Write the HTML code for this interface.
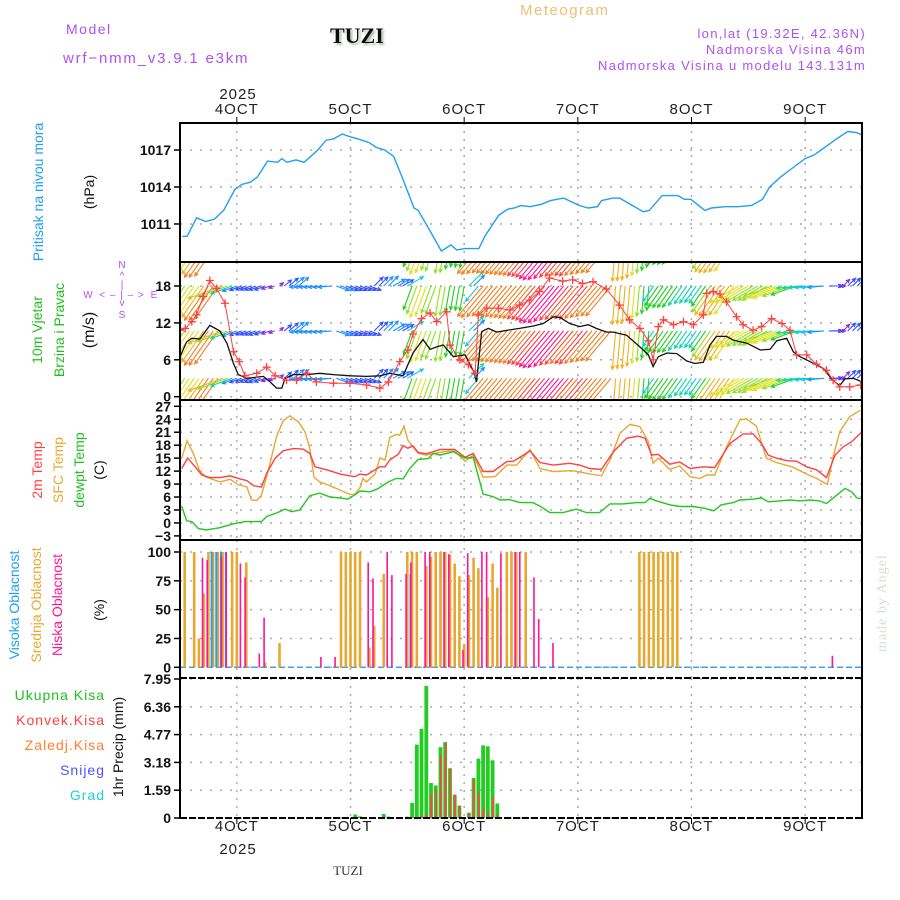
<!DOCTYPE html>
<html><head><meta charset="utf-8"><title>Meteogram TUZI</title>
<style>
html,body{margin:0;padding:0;background:#fff;}
svg{display:block;font-family:"Liberation Sans",sans-serif;}
.serif{font-family:"Liberation Serif",serif;}
</style></head>
<body>
<svg id="chart" width="900" height="900" viewBox="0 0 900 900" xmlns="http://www.w3.org/2000/svg">
<defs>
<clipPath id="cp1"><rect x="180" y="123" width="682" height="139"/></clipPath>
<clipPath id="cp2"><rect x="180" y="263" width="682" height="137"/></clipPath>
<clipPath id="cp3"><rect x="180" y="401" width="682" height="139"/></clipPath>
<filter id="sh"><feDropShadow dx="2" dy="2" stdDeviation="1" flood-color="#9a9" flood-opacity="0.8"/></filter>
</defs>
<g>
<text x="66" y="34" fill="#b050f0" font-size="14" letter-spacing="1.5">Model</text>
<text x="63" y="63" fill="#b050f0" font-size="15" letter-spacing="1.8">wrf−nmm_v3.9.1 e3km</text>
<text class="serif" x="330" y="43" fill="#111" font-size="22" font-weight="bold" filter="url(#sh)">TUZI</text>
<text x="520" y="15" fill="#f0c070" font-size="15" letter-spacing="1.5">Meteogram</text>
<text x="866" y="38" text-anchor="end" fill="#b050f0" font-size="13" letter-spacing="1.3">lon,lat (19.32E, 42.36N)</text>
<text x="866" y="54" text-anchor="end" fill="#b050f0" font-size="13" letter-spacing="1.3">Nadmorska Visina 46m</text>
<text x="866" y="70" text-anchor="end" fill="#b050f0" font-size="13" letter-spacing="1.3">Nadmorska Visina u modelu 143.131m</text>
<text x="238" y="99" text-anchor="middle" fill="#222" font-size="15" letter-spacing="1">2025</text>
<text x="238" y="854" text-anchor="middle" fill="#222" font-size="15" letter-spacing="1">2025</text>
<text class="serif" x="348" y="875" text-anchor="middle" fill="#333" font-size="13">TUZI</text>
<text class="serif" transform="translate(886,652) rotate(-90)" fill="#d4e0d4" font-size="14" letter-spacing="1">made by Angel</text>
</g>
<g font-size="14">
<text transform="translate(43,192) rotate(-90)" text-anchor="middle" fill="#20a0f0">Pritisak na nivou mora</text>
<text transform="translate(94,192) rotate(-90)" text-anchor="middle" fill="#111">(hPa)</text>
<text transform="translate(42,330) rotate(-90)" text-anchor="middle" fill="#20c020">10m Vjetar</text>
<text transform="translate(64,330) rotate(-90)" text-anchor="middle" fill="#20c020">Brzina i Pravac</text>
<text transform="translate(94,330) rotate(-90)" text-anchor="middle" fill="#111" font-size="16">(m/s)</text>
<g fill="#b050f0" font-size="10" stroke="none">
<text x="122" y="268" text-anchor="middle">N</text><text x="122" y="279" text-anchor="middle">^</text>
<text x="122" y="288" text-anchor="middle">|</text><text x="122" y="306" text-anchor="middle">v</text>
<text x="122" y="318" text-anchor="middle">S</text>
<text x="88" y="298" text-anchor="middle">W</text><text x="154" y="298" text-anchor="middle">E</text>
<text x="122" y="298" text-anchor="middle" letter-spacing="1">&lt; – | – &gt;</text>
</g>
<text transform="translate(42,470) rotate(-90)" text-anchor="middle" fill="#ff4040">2m Temp</text>
<text transform="translate(63,470) rotate(-90)" text-anchor="middle" fill="#e8a830">SFC Temp</text>
<text transform="translate(84,470) rotate(-90)" text-anchor="middle" fill="#20c020">dewpt Temp</text>
<text transform="translate(104,470) rotate(-90)" text-anchor="middle" fill="#111">(C)</text>
<text transform="translate(19,605) rotate(-90)" text-anchor="middle" fill="#20a0f0">Visoka Oblacnost</text>
<text transform="translate(41,605) rotate(-90)" text-anchor="middle" fill="#e8a830">Srednja Oblacnost</text>
<text transform="translate(62,605) rotate(-90)" text-anchor="middle" fill="#ff1493">Niska Oblacnost</text>
<text transform="translate(104,610) rotate(-90)" text-anchor="middle" fill="#111">(%)</text>
<text x="105" y="700" text-anchor="end" fill="#20c020" letter-spacing="1">Ukupna Kisa</text>
<text x="105" y="725" text-anchor="end" fill="#ff4040" letter-spacing="1">Konvek.Kisa</text>
<text x="105" y="750" text-anchor="end" fill="#ff8030" letter-spacing="1">Zaledj.Kisa</text>
<text x="105" y="775" text-anchor="end" fill="#5050ff" letter-spacing="1">Snijeg</text>
<text x="105" y="800" text-anchor="end" fill="#20d0d0" letter-spacing="1">Grad</text>
<text transform="translate(123,747) rotate(-90)" text-anchor="middle" fill="#111">1hr Precip (mm)</text>
</g>
<g id="grid"></g>
<g id="marks"></g>
<g id="frame"></g>
</svg>
<script>
// ---- data ----
const dayLabels = ["4OCT","5OCT","6OCT","7OCT","8OCT","9OCT"];
const dayHours = [12,36,60,84,108,132];
const presTicks = [1011,1014,1017];
const windTicks = [0,6,12,18];
const tempTicks = [-3,0,3,6,9,12,15,18,21,24,27];
const cloudTicks = [0,25,50,75,100];
const precipTicks = [0,1.59,3.18,4.77,6.36,7.95];

const presHours = [0.5,1.5,3.5,5.4,7.3,9.2,11.6,13,14.9,16.3,18.5,20.6,21.5,22.6,24.5,26.2,29.1,30.9,32.4,34.3,35.7,37.6,39.9,41.5,43.2,45.1,47,49.4,50.3,52.7,55.2,57.2,58.4,60.2,63.1,64.5,67.3,69.2,70.6,72,73.9,76.3,78.2,81,84.3,86.2,88.1,89,91.4,92.8,97.8,99.1,101.8,105.1,106.5,107.9,110.8,112.2,115,117.8,120.7,123,124.5,126.8,129.2,132,133.9,137.2,138.6,141,142.9,144.1];
const presVals = [1010.0,1010.0,1011.5,1011.2,1011.4,1012.1,1013.8,1014.2,1014.4,1014.8,1016.1,1016.0,1016.3,1016.0,1016.2,1016.0,1017.0,1017.8,1017.9,1018.3,1018.1,1017.9,1017.6,1017.2,1017.0,1016.5,1014.7,1012.3,1012.1,1010.5,1008.8,1009.3,1008.9,1009.0,1009.0,1010.1,1011.7,1012.2,1012.3,1012.5,1012.4,1012.6,1012.9,1013.1,1012.5,1012.3,1012.4,1012.9,1013.1,1013.1,1012.0,1012.1,1013.3,1013.3,1013.0,1013.0,1012.1,1012.3,1012.4,1012.4,1012.5,1013.0,1014.0,1014.8,1015.5,1016.3,1016.6,1017.5,1017.9,1018.5,1018.4,1018.2];

const speedHours = [0,1.4,2.5,4.2,6.3,8.4,9.9,11.3,12.3,14.1,17.6,19,20.4,21.5,22.2,23.9,26.7,29.5,32.4,35.9,39.4,42.2,44.3,47.1,49.2,51.3,52.8,54.2,55.6,57.7,60.2,62,62.6,63.7,65.1,66.9,69,71.7,74.6,76.7,78.8,80.2,82.3,84.4,86.2,87.9,90.1,91.5,94.3,97.1,98.9,99.9,101,102.8,104.9,107,108.7,110.5,111.9,113.3,115.4,116.8,119.7,122.5,124.6,126,128.1,129.5,130.9,133,135.8,137.9,139.3,140.4,142.2,144];
const speedVals = [6.5,8.9,9.5,9.4,11.6,10.7,8.7,5.4,3.6,3.0,3.3,2.4,1.4,1.4,3.0,3.6,3.6,3.8,3.6,3.4,3.3,3.4,3.8,3.4,7.1,9.3,7.7,8.1,8.4,6.5,6.8,4.1,2.4,10.6,11.1,10.5,10.8,11.1,11.5,11.9,13.0,12.9,11.9,11.4,11.7,11.1,10.5,10.5,10.0,8.1,6.8,4.9,6.5,7.1,7.0,5.8,5.4,5.6,8.4,9.8,9.8,9.2,8.7,7.6,7.7,9.1,9.5,7.3,6.5,5.7,4.6,2.6,1.8,2.9,3.0,2.4];

const gustHours = [0,1.1,2.5,3.5,4.9,6.3,7.7,9.5,11.3,12.5,13.7,16.2,18.3,20.1,22.5,24.6,26.7,28.8,32.4,35.9,39.4,42.2,44,46.4,48.1,49.2,51,52.8,54.2,56.3,57,59.1,60.9,62.3,63,64.8,67.2,69.7,71.7,73.8,75.9,78,80.8,82.9,85,87.2,90,92.8,94.9,97.1,98.9,99.9,101,102.1,104.2,106.3,108.4,110.5,111.2,112.6,114,115.4,117.5,118.9,121,122.8,124.9,127.1,128.8,130.2,132.3,134.4,136.5,137.9,139.3,141.4,143.7];
const gustVals = [10.8,11.1,12.2,13.3,16.3,18.9,17.6,15.2,7.3,5.7,3.4,3.8,4.8,3.4,2.7,2.7,3.8,2.4,2.2,2.2,1.9,1.4,2.4,5.7,7.6,10.2,12.7,13.6,12.2,13.8,8.4,6.0,5.2,3.8,13.3,14.4,14.4,14.1,14.9,15.7,17.1,19.3,18.8,19.0,18.4,18.7,17.5,14.9,12.5,11.1,9.1,6.0,11.4,12.5,11.7,12.2,11.7,13.3,16.8,17.1,16.7,15.4,13.0,11.7,10.8,11.4,12.7,11.9,10.8,6.8,6.8,5.3,4.3,2.7,1.6,1.6,1.9];

const dirStartHours = [0,9,21,26,33,41,45,49,55,61,63,92,100,118,125,131,137,140];
const dirToDeg = [215,250,50,265,110,45,60,200,190,45,220,185,215,240,250,265,90,45];
const arrowRowVals = [3,10.7,18,25];

const t2Hours = [0.35,1.6,3.2,4.6,6.3,8.4,10.6,12.7,14.1,15.6,17.2,18.3,20.1,21.8,23.9,26,27.4,28.5,31,33.8,36.9,38,39.4,41.2,42.2,43.3,44.3,46.1,47.1,48.1,49.2,50.3,52,53.5,54.9,58,60.2,61.9,64,66.1,69,70.4,72.5,73.9,76,78.8,82.3,84.4,86.5,89,91.5,94.3,96.7,98.2,99.6,101,103.4,105.5,107.7,110.5,112.9,116.1,118.9,121,122.8,124.2,125.9,128.1,130.2,132.3,134.4,136.5,138.3,140,141.8,143.7];
const t2Vals = [12.6,15.0,13.0,11.1,10.5,10.5,10.9,10.2,9.8,8.6,8.3,11.5,15.0,16.7,17.2,17.1,16.1,13.0,12.3,11.3,10.7,11.3,11.1,12.3,13.0,13.0,14.6,15.9,17.9,17.3,17.8,16.3,16.0,16.5,17.0,17.0,15.2,16.1,11.9,11.9,14.2,14.3,15.7,16.7,14.0,13.4,13.8,13.4,12.6,12.4,16.5,19.6,20.1,19.6,15.7,15.9,13.6,14.1,12.6,13.0,12.8,18.4,20.6,20.6,18.4,15.7,15.0,14.4,14.3,13.0,12.3,10.5,15.7,17.6,18.8,20.8];
const sfcHours = [0.35,1.5,2.8,4.2,5.6,8.4,10.6,12.3,14.1,15.1,16.2,17.2,18.3,20.4,21.8,23.2,25,26.4,27.4,28.3,29.5,31.7,33.8,35.9,36.9,38.1,38.6,39.4,41.2,42.2,43.3,44.3,45.7,46.4,47.3,48.1,49.2,50.3,52,54.2,56.6,58,60.2,61.9,64,66.5,69,71.1,73.9,76,78.8,83,85.8,89,90.8,92.9,95,97.1,98.9,99.9,101,103.4,105.5,107.7,109.8,111.2,112.9,115.4,118.2,119.6,121.7,123.8,125.9,129.4,132.3,134.4,136.7,137.9,139.3,141.4,143.7];
const sfcVals = [15.0,19.0,16.1,11.9,10.6,9.5,10.1,8.8,8.4,5.3,5.2,6.5,10.7,20.0,23.7,24.8,23.4,21.1,17.3,10.6,9.5,8.6,7.6,6.6,6.6,8.3,10.3,9.5,11.3,15.0,14.6,19.8,20.5,20.3,22.4,19.2,17.6,16.1,15.7,16.2,16.6,16.6,14.3,15.7,10.6,10.7,13.4,13.4,17.0,12.6,11.9,12.1,11.5,10.9,14.6,20.8,22.8,22.3,18.8,13.8,15.0,12.4,13.2,10.7,10.3,11.1,11.1,17.6,23.8,24.1,22.4,15.0,14.0,12.9,11.3,10.3,8.9,15.3,21.1,24.6,26.1];
const dewHours = [0.35,1.4,2.5,3.9,5.6,8.4,11.3,13.7,17.2,18.3,20.4,22.2,23.6,25.3,27.4,29.5,31.7,33.8,35.5,37.3,38,40.1,41.6,44,45.7,47.1,48.5,50.3,52.4,53.5,54.9,57.7,60.2,61.9,64,66.1,67.6,69.6,71.7,74.5,76,78.1,80.9,83.7,85.8,88.6,90.8,93.6,96.4,98.2,99.2,100.6,103.4,105.5,108.3,110.8,112.7,114.3,116.8,118.2,121,122.8,124.2,126.6,128.8,130.9,133,135.1,136.5,138.3,140.4,141.8,142.9,143.7];
const dewVals = [3.9,0.5,0.3,-1.3,-1.6,-1.1,-0.2,0.3,0.3,1.5,2.3,3.2,2.6,3.0,6.3,6.9,6.0,5.8,5.5,6.8,7.4,7.2,7.8,9.5,10.3,10.2,12.6,14.7,14.9,16.1,15.7,16.5,15.0,15.2,6.7,6.1,5.3,5.4,4.7,4.7,3.9,2.4,2.4,3.2,2.4,2.4,4.4,4.4,4.7,4.7,5.7,5.1,4.2,3.8,3.8,3.4,2.8,4.2,4.7,5.3,5.5,5.8,4.9,5.1,5.3,5.1,5.3,5.1,4.5,6.1,8.0,7.2,5.8,5.6];

const cloudHighHours = [7,8,9,10,49];
const cloudHighVals = [100,100,100,100,81];
const cloudMidHours = [1,3,4,5,6,7,8,9,11,12,14,18,21,34,35,36,37,38,40,41,43,48,49,50,52,53,54,55,56,57,58,59,60,61,62,63,65,66,67,69,70,71,73,97,98,99,100,101,102,103,104,105];
const cloudMidVals = [100,100,25,64,100,100,100,100,100,100,91,4,21,100,100,100,100,100,17,36,81,100,100,100,88,96,100,100,100,98,90,79,20,80,95,86,61,90,69,100,100,100,100,100,100,100,100,100,100,100,100,100];
const cloudLowHours = [5,6,9,10,13,14,17,18,30,33,40,41,44,45,48,49,52,53,56,57,60,61,64,65,68,71,72,75,76,79,138];
const cloudLowVals = [95,93,96,100,90,78,12,43,9,9,91,77,100,80,81,91,100,100,100,98,15,99,100,100,99,100,100,78,42,21,10];

const precipHours = [37,38,43,44,48,49,50,51,52,53,54,55,56,57,58,59,61,62,63,64,65,66,67];
const precipTotal = [0.2,0.1,0.23,0.08,0.08,0.86,4.2,5.1,7.55,2.0,1.86,4.05,4.34,2.84,1.34,0.71,0.3,2.3,3.4,4.15,4.1,3.3,0.83];
const precipConv = [0,0,0,0,0,0,0.05,0.1,0.25,1.34,1.6,3.6,4.3,2.84,1.34,0.71,0.3,2.2,1.45,0.55,0.3,1.2,0.2];

// ---- axes ----
const X0=180, X1=862, HMAX=144;
const xs = h => X0 + h*(X1-X0)/HMAX;
const yPres = p => 150 + (1017-p)*12.33;
const yWind = v => 396.7 - v*6.15;
const yTemp = t => 406.3 + (27-t)*4.32;
const yCloud = c => 667.3 - c*1.153;
const yPrec = m => 818 - m*(139/7.95);

const NS="http://www.w3.org/2000/svg";
function el(tag, attrs, parent){const e=document.createElementNS(NS,tag);for(const k in attrs)e.setAttribute(k,attrs[k]);parent.appendChild(e);return e;}
const grid=document.getElementById('grid'), marks=document.getElementById('marks'), frame=document.getElementById('frame');

const panels=[
 {top:123,bot:262,ticks:presTicks,fy:yPres,fmt:v=>v,name:'pressure'},
 {top:262,bot:400,ticks:windTicks,fy:yWind,fmt:v=>v,name:'wind'},
 {top:400,bot:540,ticks:tempTicks,fy:yTemp,fmt:v=>v<0?'−'+(-v):v,name:'temp'},
 {top:540,bot:678,ticks:cloudTicks,fy:yCloud,fmt:v=>v,name:'cloud'},
 {top:678,bot:818,ticks:precipTicks,fy:yPrec,fmt:v=>v,name:'precip'}
];
panels.forEach(p=>{
  dayHours.forEach(h=>{
    const g=el('line',{x1:xs(h),x2:xs(h),y1:p.top,y2:p.bot,stroke:'#aaa','stroke-width':1.5,'stroke-dasharray':'2,6'},grid);
    
    
  });
  p.ticks.forEach(v=>{
    const y=p.fy(v);
    const g=el('line',{x1:X0,x2:X1,y1:y,y2:y,stroke:'#aaa','stroke-width':1.5,'stroke-dasharray':'2,8'},grid);
    
    
    const tk=el('line',{x1:X0-6,x2:X0,y1:y,y2:y,stroke:'#000','stroke-width':1.5},frame);
    
    
    const t=el('text',{x:X0-9,y:y+5,'text-anchor':'end','font-size':14,'font-weight':'bold',fill:'#111'},frame);
    t.textContent=p.fmt(v);
    
    
  });
});
dayHours.forEach((h,i)=>{
  [[114,123,117],[831,818,812]].forEach(([ty,a,b])=>{
    const t=el('text',{x:xs(h),y:ty,'text-anchor':'middle','font-size':15,fill:'#222','letter-spacing':1},frame);
    t.textContent=dayLabels[i];
    
    
    const l=el('line',{x1:xs(h),x2:xs(h),y1:a,y2:b+(ty>800?12:0),stroke:'#000','stroke-width':1},frame);
    
    
  });
});

function polyline(hours, vals, fy, color, name, clip, width){
  const pts=hours.map((h,i)=>xs(h).toFixed(1)+','+fy(vals[i]).toFixed(1)).join(' ');
  const p=el('polyline',{points:pts,fill:'none',stroke:color,'stroke-width':width||1.4,'clip-path':'url(#'+clip+')'},marks);
  
  
}
polyline(presHours,presVals,yPres,'#20a0f0','pressure-line','cp1');

function interp(hs,vs,h){if(h<=hs[0])return vs[0];for(let i=1;i<hs.length;i++){if(h<=hs[i]){const f=(h-hs[i-1])/(hs[i]-hs[i-1]);return vs[i-1]+f*(vs[i]-vs[i-1]);}}return vs[vs.length-1];}
function dirAt(h){let d=dirToDeg[0];for(let i=0;i<dirStartHours.length;i++){if(h>=dirStartHours[i])d=dirToDeg[i];}return d;}
function speedColor(s){
  if(s<2.5)return '#8a2be2'; if(s<3.5)return '#3050ff'; if(s<4.5)return '#1e90ff'; if(s<5.5)return '#10c8e8';
  if(s<6.5)return '#10d8a0'; if(s<7.5)return '#20d020'; if(s<8.5)return '#90e020'; if(s<9.5)return '#e0e020';
  if(s<10.5)return '#f0b020'; if(s<11.5)return '#f08020'; if(s<12.3)return '#ff4040'; return '#ff1493';
}
const wg=el('g',{'clip-path':'url(#cp2)'},marks);


for(let h=0;h<=HMAX;h++){
  const s=interp(speedHours,speedVals,h), d=dirAt(h)*Math.PI/180, L=s*3.7;
  const c=speedColor(s);
  arrowRowVals.forEach(rv=>{
    const x=xs(h), y=yWind(rv);
    const hx=x+L*Math.sin(d), hy=y-L*Math.cos(d);
    const a1=d+Math.PI-0.45, a2=d+Math.PI+0.45;
    const pth='M'+x.toFixed(1)+' '+y.toFixed(1)+'L'+hx.toFixed(1)+' '+hy.toFixed(1)+
      'M'+(hx+4*Math.sin(a1)).toFixed(1)+' '+(hy-4*Math.cos(a1)).toFixed(1)+'L'+hx.toFixed(1)+' '+hy.toFixed(1)+
      'L'+(hx+4*Math.sin(a2)).toFixed(1)+' '+(hy-4*Math.cos(a2)).toFixed(1);
    const a=el('path',{d:pth,stroke:c,'stroke-width':1.1,fill:'none'},wg);
    
    
  });
}
polyline(speedHours,speedVals,yWind,'#111','wind-speed-line','cp2',1.3);
polyline(gustHours,gustVals,yWind,'#ff4040','wind-gust-line','cp2',1);
gustHours.forEach((h,i)=>{
  const x=xs(h), y=yWind(gustVals[i]);
  const g=el('path',{d:`M${x-4} ${y}H${x+4}M${x} ${y-4}V${y+4}`,stroke:'#ff4040','stroke-width':1.3,'clip-path':'url(#cp2)'},marks);
  
  
});

polyline(sfcHours,sfcVals,yTemp,'#e8a830','sfc-temp-line','cp3');
polyline(t2Hours,t2Vals,yTemp,'#ff4040','t2m-line','cp3');
polyline(dewHours,dewVals,yTemp,'#20c820','dewpoint-line','cp3');

function bars(hours, vals, fy, color, off, w, name){
  hours.forEach((h,i)=>{
    const x=xs(h)+off, y=fy(vals[i]), y0=fy(0);
    const r=el('rect',{x:(x-w/2).toFixed(1),y:y.toFixed(1),width:w,height:Math.max(0,y0-y).toFixed(1),fill:color},marks);
    
    
  });
}
const cb=el('line',{x1:X0,x2:X1,y1:yCloud(0),y2:yCloud(0),stroke:'#40a0f0','stroke-width':1.5,'stroke-dasharray':'6,3'},marks);


bars(cloudMidHours,cloudMidVals,yCloud,'#e8a830',0,2.6,'cloud-mid-bar');
bars(cloudHighHours,cloudHighVals,yCloud,'#20a0f0',-1.6,2,'cloud-high-bar');
bars(cloudLowHours,cloudLowVals,yCloud,'#ff1493',-1.2,1.6,'cloud-low-bar');

bars(precipHours,precipTotal,yPrec,'#22cc22',0,3.8,'precip-total-bar');
bars(precipHours,precipConv,yPrec,'#ff4444',0.3,1.8,'precip-conv-bar');

[[123,'pressure'],[262,'wind'],[400,'temp'],[540,'cloud']].forEach(([y,n])=>{
  const l=el('line',{x1:X0,x2:X1,y1:y,y2:y,stroke:'#000','stroke-width':2},frame);
  
  
});
[[678],[818]].forEach(([y])=>{
  const l=el('line',{x1:X0,x2:X1,y1:y,y2:y,stroke:'#000','stroke-width':2,'stroke-dasharray':'7,2'},frame);
  
  
});
[X0,X1].forEach(x=>{
  const l=el('line',{x1:x,x2:x,y1:122,y2:819,stroke:'#000','stroke-width':2},frame);
  
  
});
</script>
</body></html>
